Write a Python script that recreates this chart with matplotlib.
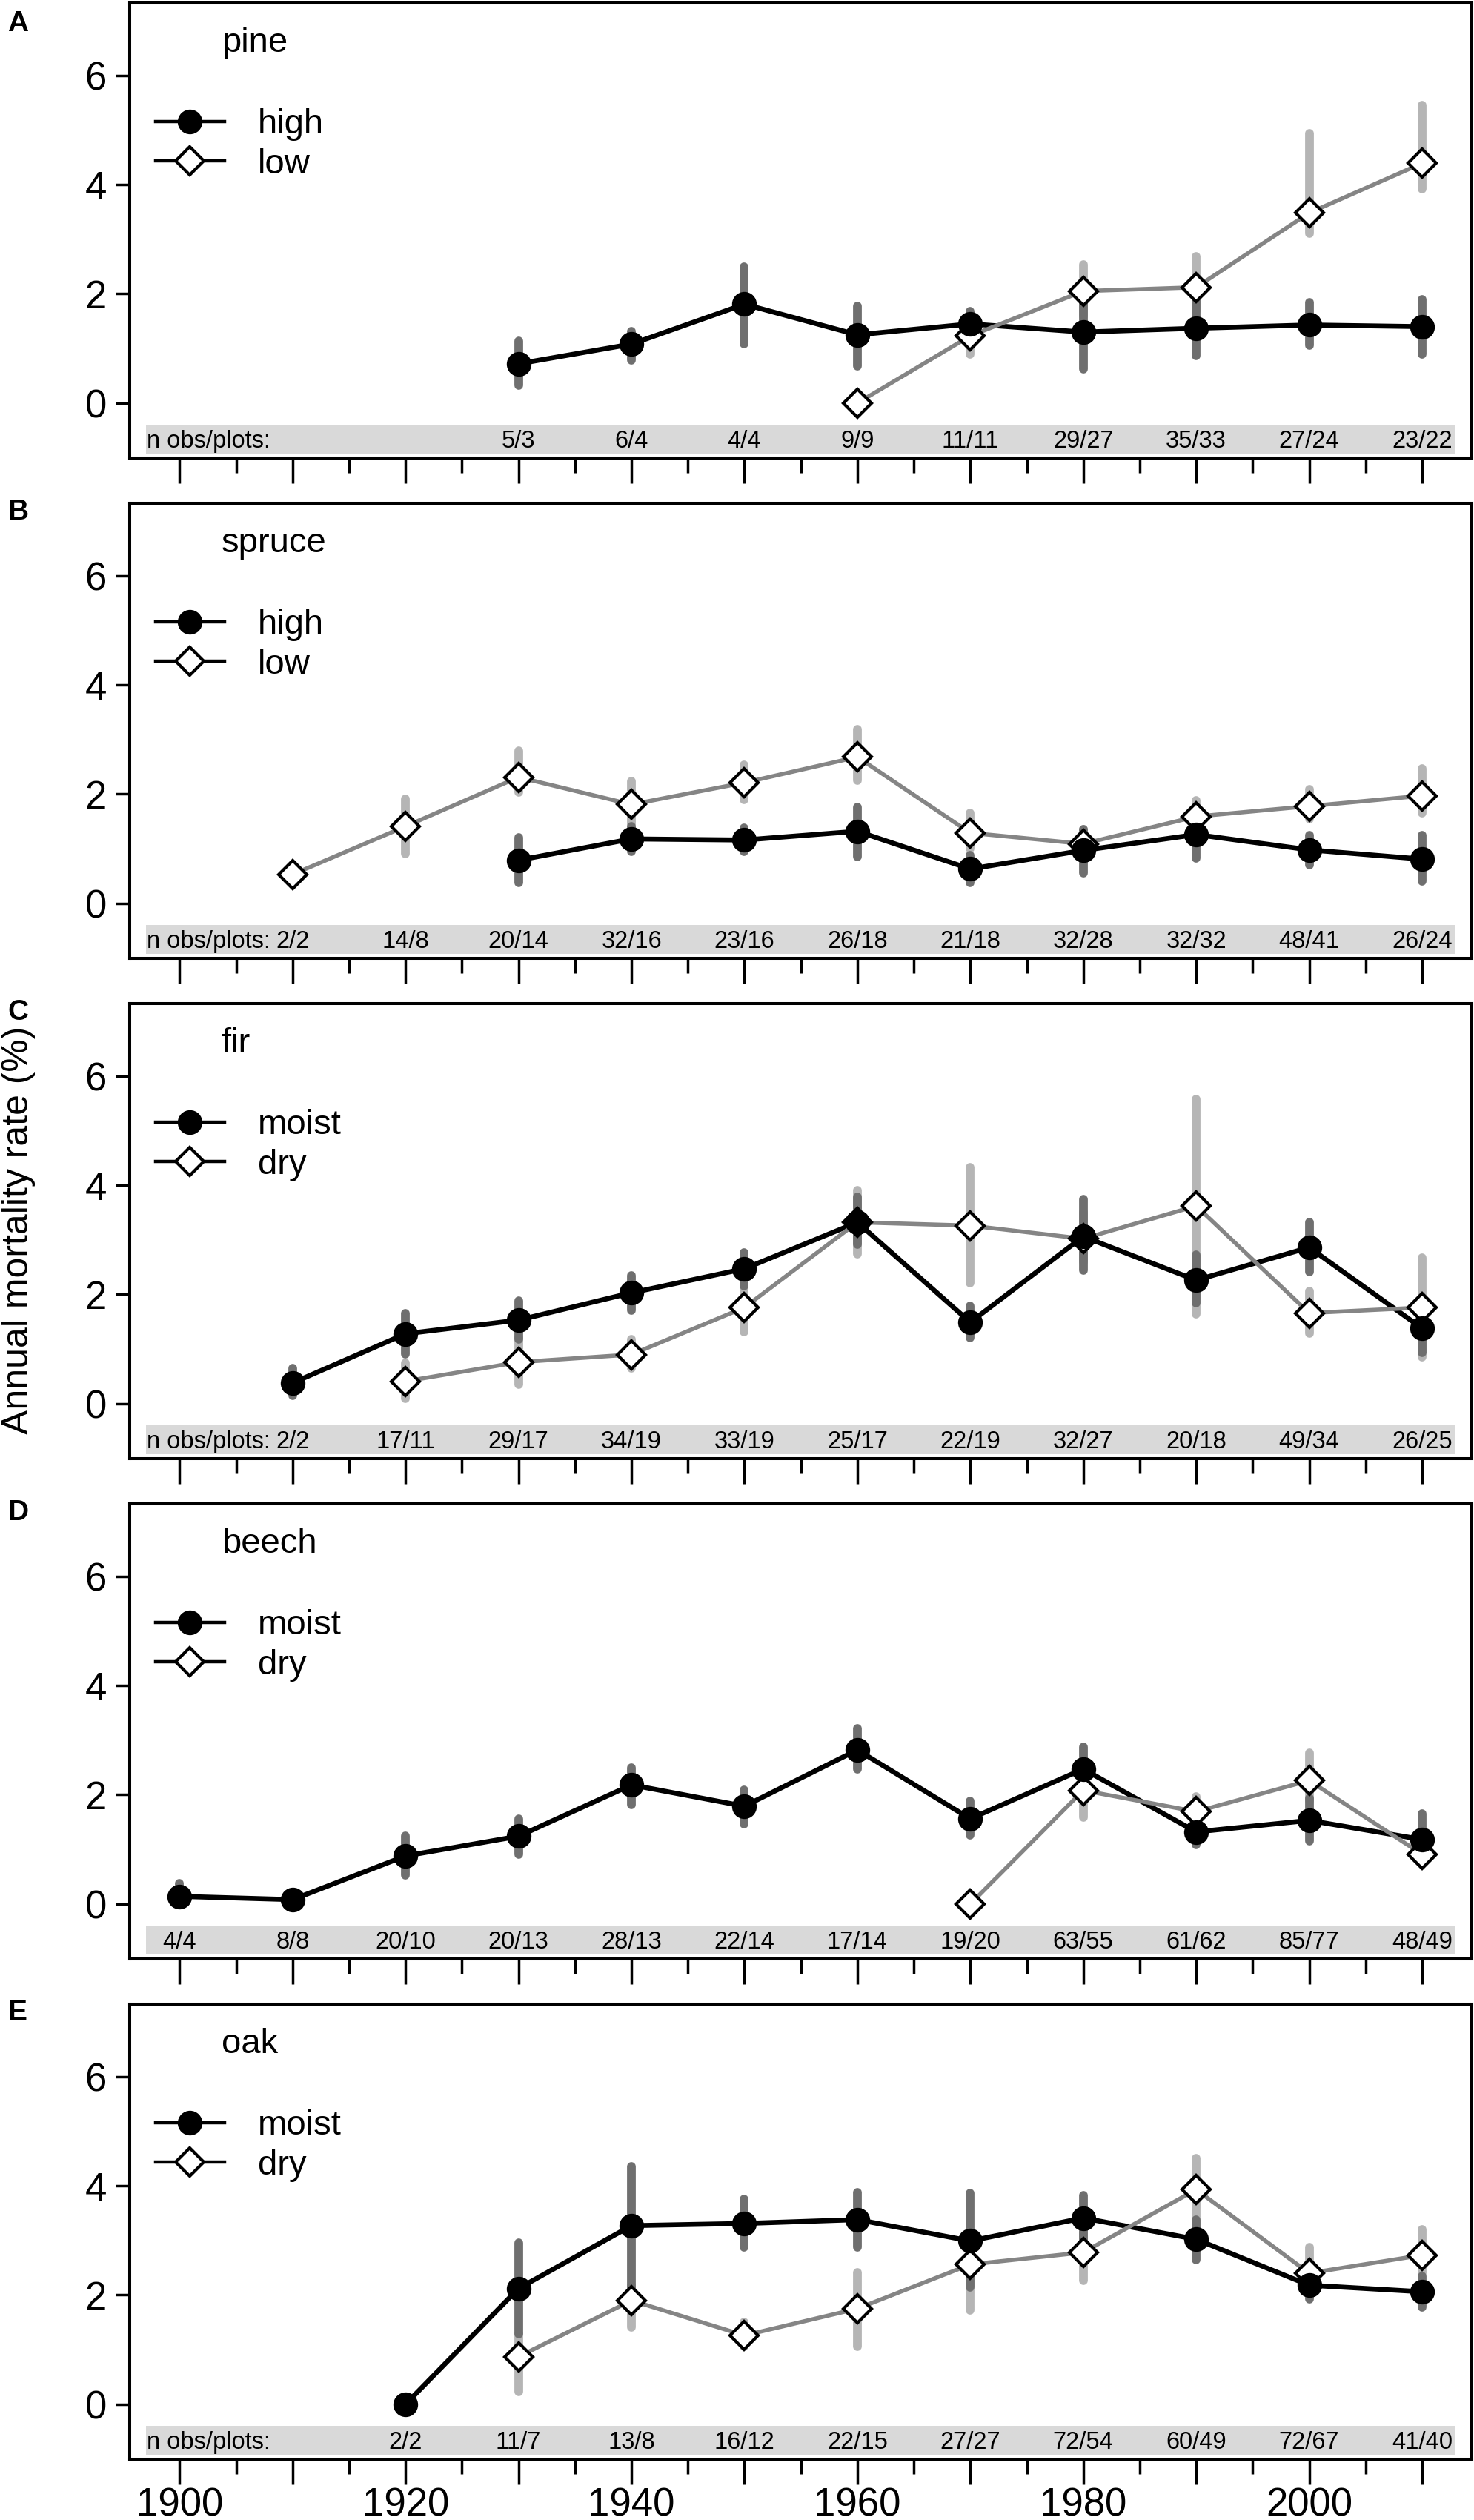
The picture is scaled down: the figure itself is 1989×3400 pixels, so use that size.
import numpy as np
import matplotlib
matplotlib.use("Agg")
import matplotlib.pyplot as plt
from matplotlib.lines import Line2D

plt.rcParams['font.family'] = ['Liberation Sans', 'DejaVu Sans']

nan = np.nan

# ---- data ----
panel_letters = ['A', 'B', 'C', 'D', 'E']
species = ['pine', 'spruce', 'fir', 'beech', 'oak']
group_names = [('high', 'low'), ('high', 'low'), ('moist', 'dry'), ('moist', 'dry'), ('moist', 'dry')]

# first series (black circles)
s1_years = [list(range(1930, 2011, 10)), list(range(1930, 2011, 10)), list(range(1910, 2011, 10)),
            list(range(1900, 2011, 10)), list(range(1920, 2011, 10))]
s1_mean = [
    [0.72, 1.08, 1.81, 1.25, 1.45, 1.30, 1.37, 1.43, 1.40],
    [0.79, 1.18, 1.16, 1.32, 0.63, 0.97, 1.26, 0.98, 0.81],
    [0.38, 1.28, 1.53, 2.03, 2.47, 3.32, 1.49, 3.06, 2.26, 2.86, 1.38],
    [0.14, 0.08, 0.88, 1.24, 2.18, 1.79, 2.82, 1.56, 2.47, 1.32, 1.53, 1.18],
    [0.00, 2.12, 3.27, 3.31, 3.38, 2.99, 3.41, 3.02, 2.18, 2.06],
]
s1_lo = [
    [0.32, 0.78, 1.08, 0.68, 1.14, 0.62, 0.87, 1.05, 0.90],
    [0.38, 0.95, 0.95, 0.85, 0.38, 0.56, 0.82, 0.71, 0.41],
    [0.15, 0.91, 1.18, 1.71, 2.15, 2.91, 1.21, 2.44, 1.85, 2.41, 0.94],
    [0.00, nan, 0.53, 0.91, 1.82, 1.47, 2.47, 1.26, 2.05, 1.09, 1.15, 0.80],
    [nan, 1.29, 2.11, 2.87, 2.87, 2.14, 3.00, 2.65, 1.93, 1.78],
]
s1_hi = [
    [1.14, 1.32, 2.50, 1.78, 1.68, 1.96, 1.90, 1.84, 1.90],
    [1.21, 1.41, 1.38, 1.76, 0.88, 1.35, 1.76, 1.24, 1.24],
    [0.65, 1.65, 1.88, 2.35, 2.76, 3.79, 1.79, 3.74, 2.72, 3.32, 1.79],
    [0.38, nan, 1.24, 1.56, 2.50, 2.09, 3.21, 1.88, 2.88, 1.56, 1.94, 1.65],
    [nan, 2.96, 4.35, 3.75, 3.88, 3.87, 3.82, 3.38, 2.35, 2.35],
]

# second series (white diamonds)
s2_years = [list(range(1960, 2011, 10)), list(range(1910, 2011, 10)), list(range(1920, 2011, 10)),
            list(range(1970, 2011, 10)), list(range(1930, 2011, 10))]
s2_mean = [
    [0.00, 1.23, 2.05, 2.12, 3.48, 4.39],
    [0.53, 1.41, 2.31, 1.81, 2.21, 2.68, 1.29, 1.09, 1.59, 1.78, 1.97],
    [0.41, 0.76, 0.90, 1.76, 3.32, 3.26, 3.02, 3.62, 1.66, 1.76],
    [0.00, 2.08, 1.69, 2.26, 0.91],
    [0.87, 1.90, 1.26, 1.75, 2.56, 2.78, 3.93, 2.40, 2.73],
]
s2_lo = [
    [nan, 0.90, 1.60, 1.70, 3.11, 3.92],
    [nan, 0.91, 2.03, 1.45, 1.90, 2.25, 1.00, 0.85, 1.30, 1.55, 1.65],
    [0.09, 0.35, 0.65, 1.32, 2.74, 2.21, 2.60, 1.64, 1.29, 0.85],
    [nan, 1.59, 1.45, 1.90, 0.75],
    [0.23, 1.41, 1.05, 1.05, 1.72, 2.26, 3.02, 2.10, 2.40],
]
s2_hi = [
    [nan, 1.65, 2.53, 2.68, 4.93, 5.45],
    [nan, 1.91, 2.79, 2.24, 2.53, 3.18, 1.65, 1.35, 1.88, 2.09, 2.47],
    [0.74, 1.21, 1.18, 2.20, 3.91, 4.32, 3.50, 5.57, 2.06, 2.67],
    [nan, 2.45, 1.97, 2.76, 1.10],
    [1.29, 2.17, 1.50, 2.41, 3.10, 3.14, 4.50, 2.87, 3.20],
]

# sample sizes shown in the grey band
n_years = [list(range(1930, 2011, 10)), list(range(1910, 2011, 10)), list(range(1910, 2011, 10)),
           list(range(1900, 2011, 10)), list(range(1920, 2011, 10))]
n_labels = [
    ["5/3", "6/4", "4/4", "9/9", "11/11", "29/27", "35/33", "27/24", "23/22"],
    ["2/2", "14/8", "20/14", "32/16", "23/16", "26/18", "21/18", "32/28", "32/32", "48/41", "26/24"],
    ["2/2", "17/11", "29/17", "34/19", "33/19", "25/17", "22/19", "32/27", "20/18", "49/34", "26/25"],
    ["4/4", "8/8", "20/10", "20/13", "28/13", "22/14", "17/14", "19/20", "63/55", "61/62", "85/77", "48/49"],
    ["2/2", "11/7", "13/8", "16/12", "22/15", "27/27", "72/54", "60/49", "72/67", "41/40"],
]
show_prefix = [True, True, True, False, True]

# ---- figure ----
W, H = 1990, 3400
fig = plt.figure(figsize=(W / 100, H / 100), dpi=100)

left_px, right_px = 175.4, 1986
ax_h_px = 614.7
period_px = 675

DARK = '#6f6f6f'
LIGHT = '#b5b5b5'
GREY_LINE = '#858585'

for i in range(5):
    top_px = 3.6 + i * period_px
    ax = fig.add_axes([left_px / W, 1 - (top_px + ax_h_px) / H,
                       (right_px - left_px) / W, ax_h_px / H])
    ax.set_xlim(1895.6, 2014.4)
    ax.set_ylim(-1.01, 7.33)

    # grey band with sample sizes
    ax.fill_between([1897.0, 2012.9], -0.93, -0.39, color='#d9d9d9', lw=0, zorder=1)
    if show_prefix[i]:
        ax.text(1897.1, -0.81, 'n obs/plots:', fontsize=23.5, va='baseline', ha='left', zorder=2)
    for yr, lab in zip(n_years[i], n_labels[i]):
        ax.text(yr, -0.81, lab, fontsize=23.5, va='baseline', ha='center', zorder=2)

    # error bars
    ax.vlines(s2_years[i], s2_lo[i], s2_hi[i], colors=LIGHT, linewidth=8.5,
              capstyle='round', zorder=2)
    ax.vlines(s1_years[i], s1_lo[i], s1_hi[i], colors=DARK, linewidth=8.5,
              capstyle='round', zorder=3)

    # lines and markers
    ax.plot(s1_years[i], s1_mean[i], color='black', lw=4.8, zorder=4)
    ax.plot(s2_years[i], s2_mean[i], color=GREY_LINE, lw=4.0, zorder=5)
    ax.plot(s2_years[i], s2_mean[i], ls='none', marker='D', ms=19.5, mfc='white',
            mec='black', mew=3.0, zorder=6)
    ax.plot(s1_years[i], s1_mean[i], ls='none', marker='o', ms=24, mfc='black',
            mec='black', mew=0, zorder=7)

    # species name and legend
    ax.text(1903.7, 6.43, species[i], fontsize=34, va='baseline', ha='left')
    handles = [Line2D([], [], color='black', lw=3.2, marker='o', ms=24, mfc='black', mew=0),
               Line2D([], [], color='black', lw=3.2, marker='D', ms=19.5, mfc='white',
                      mec='black', mew=3.0)]
    ax.legend(handles, list(group_names[i]), loc='upper left', bbox_to_anchor=(0.0191, 0.768),
              frameon=False, fontsize=34, handlelength=1.97, handletextpad=0.95,
              borderpad=0, borderaxespad=0, labelspacing=0.2)

    # axes styling
    for sp in ax.spines.values():
        sp.set_linewidth(2.9)
    ax.set_yticks([0, 2, 4, 6])
    ax.set_xticks(list(range(1900, 2011, 10)))
    ax.set_xticks(list(range(1905, 2010, 10)), minor=True)
    ax.tick_params(axis='y', direction='out', length=13.7, width=2.5, labelsize=38, pad=9)
    ax.tick_params(axis='x', which='major', direction='out', length=24.5, width=2.5,
                   labelsize=38, pad=2)
    ax.tick_params(axis='x', which='minor', direction='out', length=14.4, width=2.5)
    if i == 4:
        ax.set_xticklabels([str(y) if y % 20 == 0 else '' for y in range(1900, 2011, 10)])
    else:
        ax.tick_params(axis='x', labelbottom=False)

    label_top = max(top_px - 6, 14)
    fig.text(10 / W, 1 - label_top / H, panel_letters[i], fontsize=28, weight='bold',
             va='top', ha='left')

fig.text(25 / W, 1 - 1660 / H, 'Annual mortality rate (%)', rotation=90,
         va='center', ha='center', fontsize=36)

fig.savefig('out.png', dpi=100)
